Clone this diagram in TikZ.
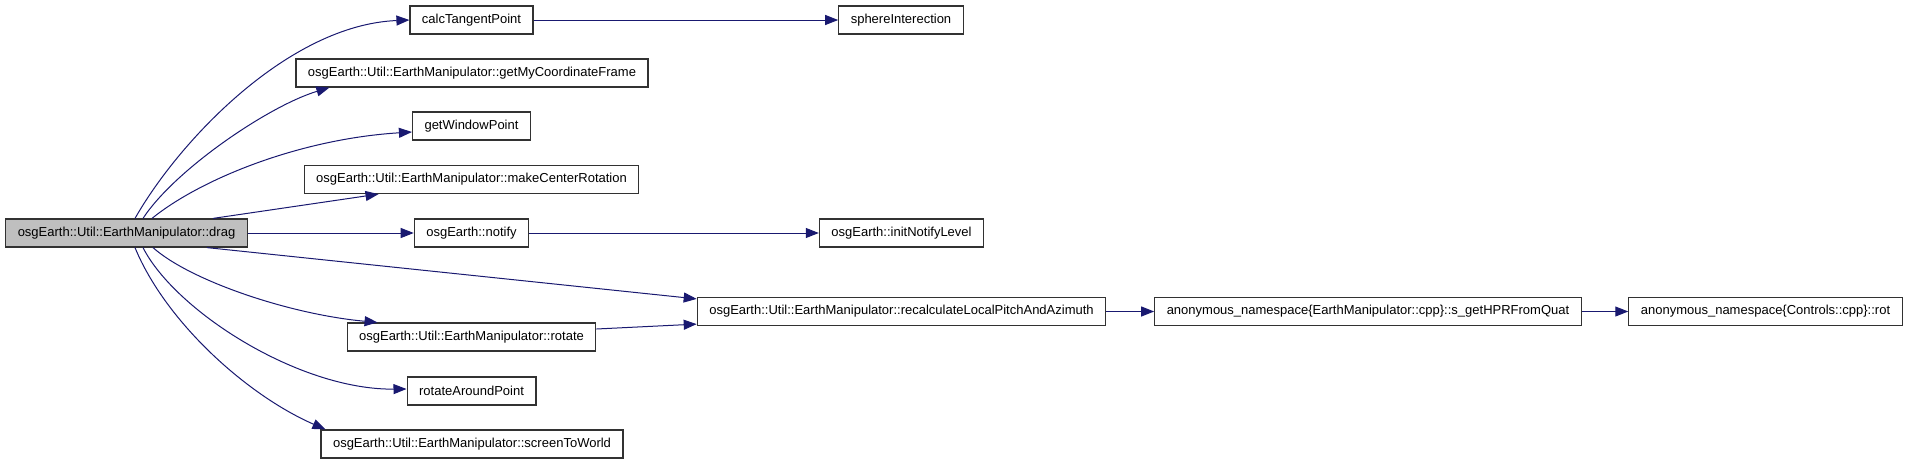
\documentclass[tikz,border=0pt]{standalone}
\usepackage{fontspec}
\setmainfont{Liberation Sans}
\usepackage{xcolor}
\usetikzlibrary{arrows.meta,calc}
\definecolor{edgeblue}{RGB}{25,25,112}
\definecolor{boxline}{RGB}{50,50,50}
\definecolor{curfill}{RGB}{191,191,191}

\begin{document}
\begin{tikzpicture}[
    x=1pt,y=-1pt,
    font=\fontsize{13}{15}\selectfont,
    fn/.style={draw=boxline,fill=white,line width=1.2pt,inner xsep=12pt,inner ysep=0pt,
               minimum height=28pt},
    cur/.style={fn,fill=curfill},
    call/.style={-{Triangle[length=13pt,width=10pt]},draw=edgeblue,line width=1pt},
]
\useasboundingbox (0,0) rectangle (1907,464);

% --- caller ---
\node[cur] (drag) at (126.5,233) {osgEarth::Util::EarthManipulator::drag};

% --- direct callees ---
\node[fn] (tangent) at (471.5,20)  {calcTangentPoint};
\node[fn] (frame)   at (472,73)    {osgEarth::Util::EarthManipulator::getMyCoordinateFrame};
\node[fn] (winpt)   at (471.5,126) {getWindowPoint};
\node[fn] (center)  at (471.5,179.5) {osgEarth::Util::EarthManipulator::makeCenterRotation};
\node[fn] (notify)  at (471.5,233) {osgEarth::notify};
\node[fn] (rotate)  at (471.5,337) {osgEarth::Util::EarthManipulator::rotate};
\node[fn] (around)  at (471.5,391) {rotateAroundPoint};
\node[fn] (screen)  at (472,444)   {osgEarth::Util::EarthManipulator::screenToWorld};

% --- deeper callees ---
\node[fn] (sphere)  at (901,20)    {sphereInterection};
\node[fn] (initlvl) at (901.5,233) {osgEarth::initNotifyLevel};
\node[fn] (recalc)  at (901.5,311.5) {osgEarth::Util::EarthManipulator::recalculateLocalPitchAndAzimuth};
\node[fn] (hpr)     at (1368,311.5) {anonymous\_namespace\{EarthManipulator::cpp\}::s\_getHPRFromQuat};
\node[fn] (rot)     at (1765.5,311.5) {anonymous\_namespace\{Controls::cpp\}::rot};

% calls leaving drag
\draw[call] ([xshift=8.5pt]drag.north) .. controls +(45,-79) and +(-120,5) .. (tangent.west);
\draw[call] ([xshift=16.5pt]drag.north) .. controls +(32,-49) and +(-60,18) .. ([xshift=34pt]frame.south west);
\draw[call] ([xshift=25.5pt]drag.north) .. controls +(48,-39) and +(-113,7) .. ([yshift=-6pt]winpt.west);
\draw[call] ([xshift=86.5pt]drag.north) -- ([xshift=75pt]center.south west);
\draw[call] (drag.east) -- (notify.west);
\draw[call] ([xshift=80.5pt]drag.south) -- ([yshift=-2pt]recalc.north west);
\draw[call] ([xshift=26.5pt]drag.south) .. controls +(37,33) and +(-88,-8) .. ([xshift=31pt]rotate.north west);
\draw[call] ([xshift=16.5pt]drag.south) .. controls +(32,63) and +(-108,1) .. ([yshift=2pt]around.west);
\draw[call] ([xshift=8.5pt]drag.south) .. controls +(30,73) and +(-80,-35) .. ([xshift=5pt]screen.north west);

% further calls
\draw[call] (tangent) -- (sphere);
\draw[call] (notify) -- (initlvl);
\draw[call] ([yshift=8pt]rotate.east) -- ([yshift=2pt]recalc.south west);
\draw[call] (recalc) -- (hpr);
\draw[call] (hpr) -- (rot);
\end{tikzpicture}
\end{document}
